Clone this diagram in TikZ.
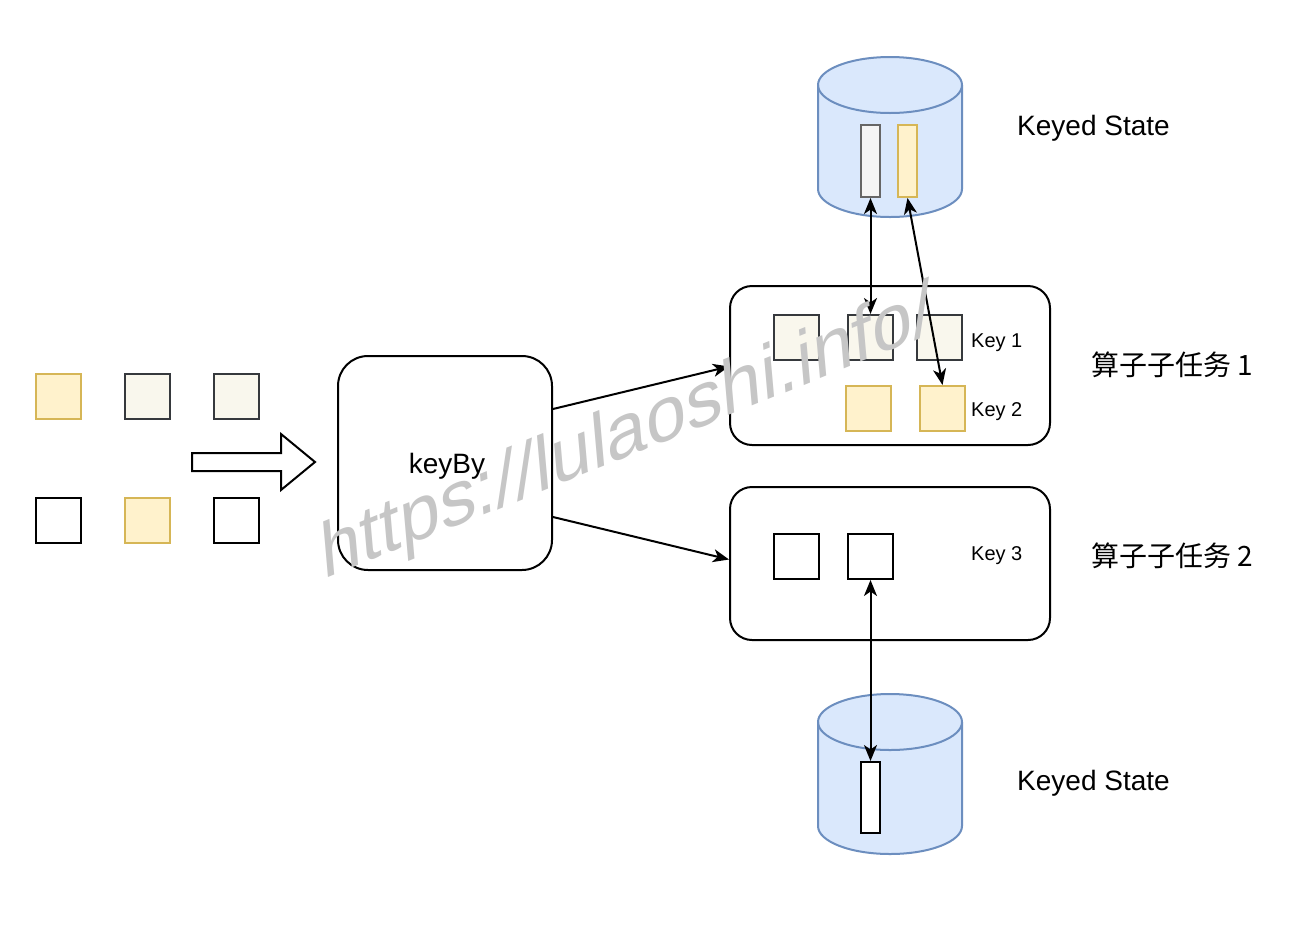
\documentclass[tikz,border=0pt]{standalone}
\usepackage{fontspec}
\setmainfont{Liberation Sans}
\newfontfamily\cjk{Noto Sans CJK SC}
\usetikzlibrary{arrows.meta}
\definecolor{yfill}{HTML}{FFF2CC}
\definecolor{ystroke}{HTML}{D6B656}
\definecolor{gfill}{HTML}{F9F7ED}
\definecolor{gstroke}{HTML}{36393D}
\definecolor{bfill}{HTML}{DAE8FC}
\definecolor{bstroke}{HTML}{6C8EBF}
\definecolor{barfill}{HTML}{F5F5F5}
\definecolor{barstroke}{HTML}{666666}
\definecolor{wm}{HTML}{C6C6C6}
\tikzset{
  sq/.style={draw, line width=2pt, minimum size=45pt, inner sep=0pt},
  ysq/.style={sq, draw=ystroke, fill=yfill},
  gsq/.style={sq, draw=gstroke, fill=gfill},
  wsq/.style={sq, draw=black, fill=white},
  bar/.style={draw, line width=2pt, minimum width=19pt, minimum height=72pt, inner sep=0pt},
  box/.style={draw, line width=2pt, rounded corners=22pt, inner sep=0pt, fill=white},
  cyl/.style={draw=bstroke, fill=bfill, line width=2pt},
  conn/.style={line width=2pt, -{Stealth[length=16pt,width=13pt,inset=4.5pt]}},
  dconn/.style={line width=2pt, {Stealth[length=16pt,width=13pt,inset=4.5pt]}-{Stealth[length=16pt,width=13pt,inset=4.5pt]}},
  lbl/.style={anchor=west, inner sep=0pt, font=\fontsize{28}{32}\selectfont},
  klbl/.style={anchor=west, inner sep=0pt, font=\fontsize{20}{24}\selectfont},
}
\begin{document}
\begin{tikzpicture}[x=1pt,y=-1pt]
\useasboundingbox[fill=white] (0,0) rectangle (1301,927);

% left input squares
\node[ysq] (i1) at (58.5,396.5) {};
\node[gsq] (i2) at (147.5,396.5) {};
\node[gsq] (i3) at (236.5,396.5) {};
\node[wsq] (i4) at (58.5,520.5) {};
\node[ysq] (i5) at (147.5,520.5) {};
\node[wsq] (i6) at (236.5,520.5) {};

% hollow arrow
\draw[line width=2pt, fill=white, line join=miter] (192,453) -- (281,453) -- (281,434) -- (315,462) -- (281,490) -- (281,471) -- (192,471) -- cycle;

% keyBy
\node[box, rounded corners=30pt, minimum width=214pt, minimum height=214pt] (keyby) at (445,463) {};
\node[inner sep=0pt, font=\fontsize{28}{32}\selectfont] (keybyt) at (447,466) {keyBy};

% subtask boxes
\node[box, minimum width=320pt, minimum height=159pt] (box1) at (890,365.5) {};
\node[box, minimum width=320pt, minimum height=153pt] (box2) at (890,563.5) {};

% squares in box1
\node[gsq] (a1) at (796.5,337.5) {};
\node[gsq] (a2) at (870.5,337.5) {};
\node[gsq] (a3) at (939.5,337.5) {};
\node[ysq] (b1) at (868.5,408.5) {};
\node[ysq] (b2) at (942.5,408.5) {};
\node[klbl] (k1) at (971,343) {Key 1};
\node[klbl] (k2) at (971,412) {Key 2};

% squares in box2
\node[wsq] (c1) at (796.5,556.5) {};
\node[wsq] (c2) at (870.5,556.5) {};
\node[klbl] (k3) at (971,556) {Key 3};

% top cylinder
\draw[cyl] (818,85) -- (818,189) arc[start angle=180,end angle=360,x radius=72pt,y radius=28pt] -- (962,85) arc[start angle=0,end angle=180,x radius=72pt,y radius=28pt] -- cycle;
\draw[cyl, fill=none] (818,85) arc[start angle=180,end angle=360,x radius=72pt,y radius=28pt];
\node[bar, draw=barstroke, fill=barfill] (tb1) at (870.5,161) {};
\node[bar, draw=ystroke, fill=yfill] (tb2) at (907.5,161) {};

% bottom cylinder
\draw[cyl] (818,722) -- (818,826) arc[start angle=180,end angle=360,x radius=72pt,y radius=28pt] -- (962,722) arc[start angle=0,end angle=180,x radius=72pt,y radius=28pt] -- cycle;
\draw[cyl, fill=none] (818,722) arc[start angle=180,end angle=360,x radius=72pt,y radius=28pt];
\node[bar, draw=black, fill=white, minimum height=71pt] (bb) at (870.5,797.5) {};

% labels
\node[lbl] (ks1) at (1017,128) {Keyed State};
\node[lbl] (ks2) at (1017,783) {Keyed State};
\node[lbl, font=\cjk\fontsize{28}{32}\selectfont] (t1) at (1091,365) {算子子任务 1};
\node[lbl, font=\cjk\fontsize{28}{32}\selectfont] (t2) at (1091,556) {算子子任务 2};

% connectors
\draw[conn] ([yshift=54pt]keyby.east) -- ([yshift=-1pt]box1.west);
\draw[conn] ([yshift=-54pt]keyby.east) -- ([yshift=4pt]box2.west);
\draw[dconn] (tb1.south) -- (a2.north);
\draw[dconn] (tb2.south) -- (b2.north);
\draw[dconn] (c2.south) -- (bb.north);

% watermark
\begin{scope}[blend group=multiply]
\begin{scope}[shift={(323,580)}, cm={0.927,0.375,-0.0872,0.9962,(0,0)}]
\node[transform shape, anchor=base west, inner sep=0pt, text=wm, font=\fontsize{77}{80}\selectfont] (wmk) at (0,0) {https://lulaoshi.info/};
\end{scope}
\end{scope}
\end{tikzpicture}
\end{document}
